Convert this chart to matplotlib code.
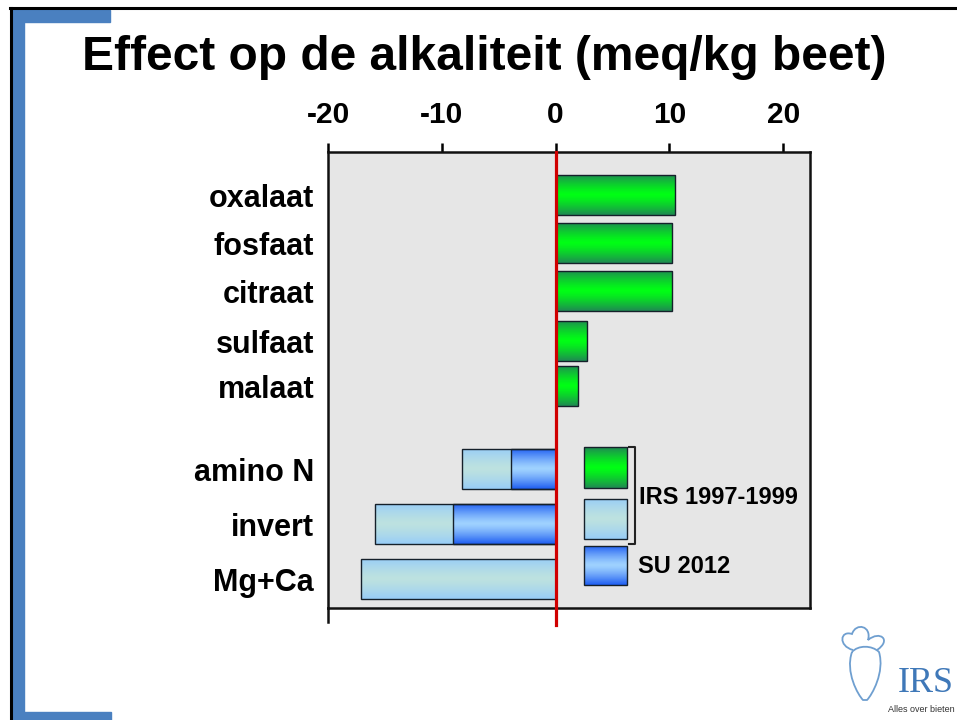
import numpy as np
import matplotlib
matplotlib.use('Agg')
import matplotlib.pyplot as plt
from matplotlib.patches import Rectangle, PathPatch
from matplotlib.path import Path
from matplotlib.colors import to_rgb

plt.rcParams['font.family'] = ['Liberation Sans', 'DejaVu Sans']

'''
data (meq/kg beet)
'''
categories = ['oxalaat', 'fosfaat', 'citraat', 'sulfaat', 'malaat', 'amino N', 'invert', 'Mg+Ca']
anions = ['oxalaat', 'fosfaat', 'citraat', 'sulfaat', 'malaat']
anion_irs = [10.5, 10.2, 10.2, 2.8, 2.0]
cations = ['amino N', 'invert', 'Mg+Ca']
cation_irs = [-8.25, -15.9, -17.1]
cation_su = ['amino N', 'invert']
cation_su_vals = [-3.9, -9.0]
xticks = [-20, -10, 0, 10, 20]
title = 'Effect op de alkaliteit (meq/kg beet)'
legend_labels = ['IRS 1997-1999', 'SU 2012']

# layout: row positions (top group, gap, bottom group)
rows = dict(zip(categories, [0, 1, 2, 3.04, 3.98, 5.71, 6.85, 8.0]))
bar_h = 0.84

green = ('#1f8a52', '#00ff14')
light = ('#98cdf7', '#bde2e0')
dark = ('#1f5ef2', '#9fd2ff')


def grad_bar(ax, y, left, width, cols, h=bar_h, clip=True):
    rect = Rectangle((left, y - h / 2), width, h, facecolor='none',
                     edgecolor='#15202a', linewidth=1.0, zorder=4, clip_on=clip)
    ax.add_patch(rect)
    c_edge, c_mid = np.array(to_rgb(cols[0])), np.array(to_rgb(cols[1]))
    t = np.abs(np.linspace(-1, 1, 64)) ** 1.3
    img = (c_mid[None, :] * (1 - t[:, None]) + c_edge[None, :] * t[:, None])[:, None, :]
    im = ax.imshow(img, extent=[left, left + width, y + h / 2, y - h / 2],
                   aspect='auto', interpolation='bilinear', zorder=3)
    im.set_clip_path(rect)
    return rect


W, H = 957, 720
fig = plt.figure(figsize=(W / 100, H / 100), dpi=100)

# slide decoration
fig.add_artist(plt.Line2D([10 / W, 1], [1 - 8 / H, 1 - 8 / H], color='black', lw=2.2))
fig.add_artist(plt.Line2D([11 / W, 11 / W], [0, 1 - 8 / H], color='black', lw=2.2))
fig.add_artist(Rectangle((12 / W, 0), 12 / W, 1 - 10 / H, color='#4a80c0', transform=fig.transFigure))
fig.add_artist(Rectangle((12 / W, 1 - 22 / H), 98 / W, 12 / H, color='#4a80c0', transform=fig.transFigure))
fig.add_artist(Rectangle((12 / W, 0), 99 / W, 8 / H, color='#4a80c0', transform=fig.transFigure))

fig.text(484.5 / W, 1 - 58 / H, title, ha='center', va='center', fontsize=34.5, fontweight='bold')


# logo: simple beet outline + text
def px(x, y):
    return (x / W, 1 - y / H)


M, L, C = Path.MOVETO, Path.LINETO, Path.CURVE4
beet = Path([px(852, 652),
             px(845, 672), px(858, 695), px(863, 700),
             px(867, 700),
             px(872, 695), px(885, 672), px(879, 652),
             px(872, 645), px(858, 645), px(852, 652)],
            [M, C, C, C, L, C, C, C, C, C, C])
fig.add_artist(PathPatch(beet, facecolor='none', edgecolor='#6f9fd0', lw=1.3,
                         transform=fig.transFigure))
leaves = Path([px(853, 650),
               px(838, 646), px(840, 630), px(852, 634),
               px(856, 622), px(872, 626), px(868, 640),
               px(880, 630), px(892, 640), px(877, 650)],
              [M, C, C, C, C, C, C, C, C, C])
fig.add_artist(PathPatch(leaves, facecolor='none', edgecolor='#6f9fd0', lw=1.3,
                         transform=fig.transFigure))
fig.text(926 / W, 1 - 684 / H, 'IRS', ha='center', va='center', fontsize=26,
         family='Liberation Serif', color='#3f78b8')
fig.text(955 / W, 1 - 709 / H, 'Alles over bieten', ha='right', va='center', fontsize=6.5, color='#333333')

ax = fig.add_axes([328 / W, 1 - 608 / H, (810 - 328) / W, (608 - 152) / H])
ax.set_facecolor('#e6e6e6')

for name, v in zip(anions, anion_irs):
    grad_bar(ax, rows[name], 0, v, green)
for name, v in zip(cations, cation_irs):
    grad_bar(ax, rows[name], v, -v, light)
for name, v in zip(cation_su, cation_su_vals):
    grad_bar(ax, rows[name], v, -v, dark)

ytop, ybot = -0.9, 8.6
ax.set_xlim(-20, 22.35)
ax.set_ylim(ybot, ytop)

# zero line and left extension below the frame
ax.plot([0, 0], [ytop, ybot + 0.36], color='#d00000', lw=2.3, clip_on=False, zorder=6)
ax.plot([-20, -20], [ybot, ybot + 0.3], color='#111111', lw=1.8, clip_on=False, zorder=6)

# legend
grad_bar(ax, 5.67, 2.5, 3.8, green, h=0.84)
grad_bar(ax, 6.75, 2.5, 3.8, light, h=0.84)
grad_bar(ax, 7.72, 2.5, 3.8, dark, h=0.82)
ax.plot([6.45, 6.95, 6.95, 6.45], [5.25, 5.25, 7.27, 7.27], color='#222222', lw=1.5, zorder=5)
ax.text(7.3, 6.29, legend_labels[0], ha='left', va='center', fontsize=17, fontweight='bold')
ax.text(7.2, 7.73, legend_labels[1], ha='left', va='center', fontsize=17, fontweight='bold')

ax.xaxis.tick_top()
ax.set_xticks(xticks)
ax.set_xticklabels([str(t) for t in xticks], fontsize=21.5, fontweight='bold')
ax.tick_params(axis='x', direction='out', length=6.5, width=1.8, pad=10)
ax.set_yticks([rows[c] for c in categories])
ax.set_yticklabels(categories, fontsize=22, fontweight='bold')
ax.tick_params(axis='y', length=0, pad=10)
for s in ax.spines.values():
    s.set_linewidth(1.8)
    s.set_color('#111111')

plt.savefig('out.png', dpi=100)
